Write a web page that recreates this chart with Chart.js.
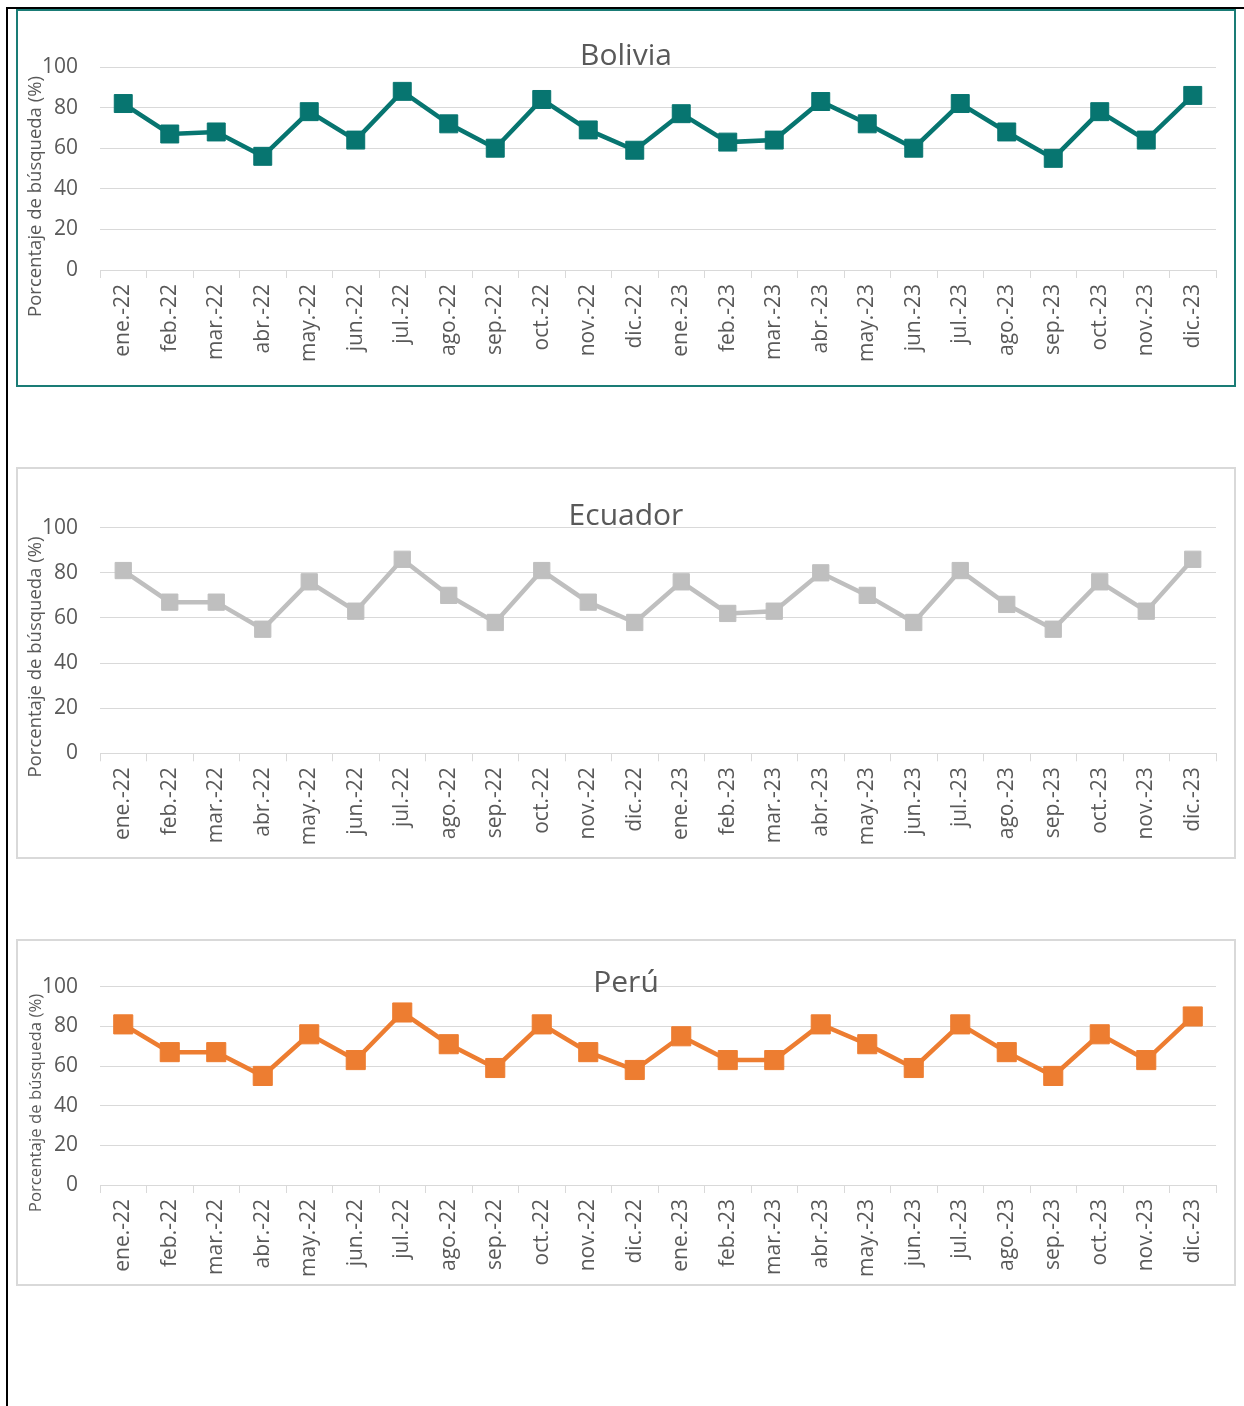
<!DOCTYPE html>
<html><head><meta charset="utf-8">
<script src="https://cdn.jsdelivr.net/npm/chart.js@4.4.1/dist/chart.umd.min.js"></script>
<style>
html,body{margin:0;padding:0;background:#fff;width:1244px;height:1406px;overflow:hidden;}
#outer{position:absolute;left:6px;top:7px;width:1400px;height:1500px;border-left:2px solid #000;border-top:2px solid #000;}
.frame{position:absolute;left:16px;width:1220px;box-sizing:border-box;border:2px solid #d9d9d9;background:#fff;}
.frame canvas{display:block;}
</style></head><body>
<div id="outer"></div>
<div class="frame" style="top:9px;height:378px;border-color:#1a7c76"><canvas id="c1" width="1216" height="374"></canvas></div>
<div class="frame" style="top:467px;height:392px;"><canvas id="c2" width="1216" height="388"></canvas></div>
<div class="frame" style="top:939px;height:347px;"><canvas id="c3" width="1216" height="343"></canvas></div>
<script>
const months = ["ene.-22","feb.-22","mar.-22","abr.-22","may.-22","jun.-22","jul.-22","ago.-22","sep.-22","oct.-22","nov.-22","dic.-22",
                "ene.-23","feb.-23","mar.-23","abr.-23","may.-23","jun.-23","jul.-23","ago.-23","sep.-23","oct.-23","nov.-23","dic.-23"];
const boliviaValues = [82,67,68,56,78,64,88,72,60,84,69,59,77,63,64,83,72,60,82,68,55,78,64,86];
const ecuadorValues = [81,67,67,55,76,63,86,70,58,81,67,58,76,62,63,80,70,58,81,66,55,76,63,86];
const peruValues    = [81,67,67,55,76,63,87,71,59,81,67,58,75,63,63,81,71,59,81,67,55,76,63,85];
const yMin = 0, yMax = 100, yStep = 20;
const yAxisTitle = "Porcentaje de búsqueda (%)";

const TEXT = '#595959', GRID = '#d9d9d9', FONT = '"Open Sans", sans-serif';

const yTitlePlugin = {
  id: 'yTitle',
  afterDraw(chart, args, opts) {
    const ctx = chart.ctx;
    ctx.save();
    ctx.translate(opts.x, opts.y);
    ctx.rotate(-Math.PI / 2);
    ctx.font = opts.size + 'px ' + FONT;
    ctx.fillStyle = TEXT;
    ctx.textAlign = 'center';
    ctx.textBaseline = 'middle';
    ctx.fillText(opts.text, 0, 0);
    ctx.restore();
  }
};

function makeChart(id, title, values, color, L) {
  new Chart(document.getElementById(id), {
    type: 'line',
    data: {
      labels: months,
      datasets: [{
        label: title,
        data: values,
        borderColor: color,
        backgroundColor: color,
        borderWidth: 4.5,
        pointStyle: 'rect',
        pointRadius: L.pr,
        pointBorderWidth: 1,
        pointBorderColor: color,
        pointBackgroundColor: color,
        tension: 0,
        fill: false
      }]
    },
    options: {
      responsive: false,
      animation: false,
      devicePixelRatio: 1,
      layout: { padding: { left: 18, right: 18, top: 0, bottom: 0 } },
      plugins: {
        legend: { display: false },
        tooltip: { enabled: false },
        title: {
          display: true,
          text: title,
          color: TEXT,
          font: { family: FONT, size: 30, weight: 'normal', lineHeight: 1.2 },
          padding: { top: L.tTop, bottom: L.tBottom }
        },
        yTitle: { text: yAxisTitle, x: 18, y: L.yTitleY, size: L.ytSize }
      },
      scales: {
        x: {
          offset: true,
          grid: { display: true, offset: true, drawOnChartArea: false, drawTicks: true, tickLength: 8, color: GRID, lineWidth: 1 },
          border: { display: true, color: GRID, width: 1 },
          ticks: { autoSkip: false, minRotation: 90, maxRotation: 90, padding: 6, color: TEXT, font: { family: FONT, size: 21 } },
          afterFit(s) { s.height = L.xh; }
        },
        y: {
          min: yMin, max: yMax,
          grid: { color: GRID, lineWidth: 1, drawTicks: false },
          border: { display: false },
          ticks: { stepSize: yStep, padding: 22, color: TEXT, font: { family: FONT, size: 21 } },
          afterFit(s) { s.width = 64; }
        }
      }
    },
    plugins: [yTitlePlugin]
  });
}

makeChart('c1', 'Bolivia', boliviaValues, '#077570', { pr: 12.7, tTop: 27, tBottom: -7, xh: 115, yTitleY: 185.5, ytSize: 18.5 });
makeChart('c2', 'Ecuador', ecuadorValues, '#bfbfbf', { pr: 11.5, tTop: 29, tBottom: -6.3, xh: 103.7, yTitleY: 188, ytSize: 18.5 });
makeChart('c3', 'Perú', peruValues, '#ed7d31', { pr: 13.5, tTop: 24, tBottom: -14.3, xh: 99, yTitleY: 162, ytSize: 16.8 });
</script>
</body></html>
